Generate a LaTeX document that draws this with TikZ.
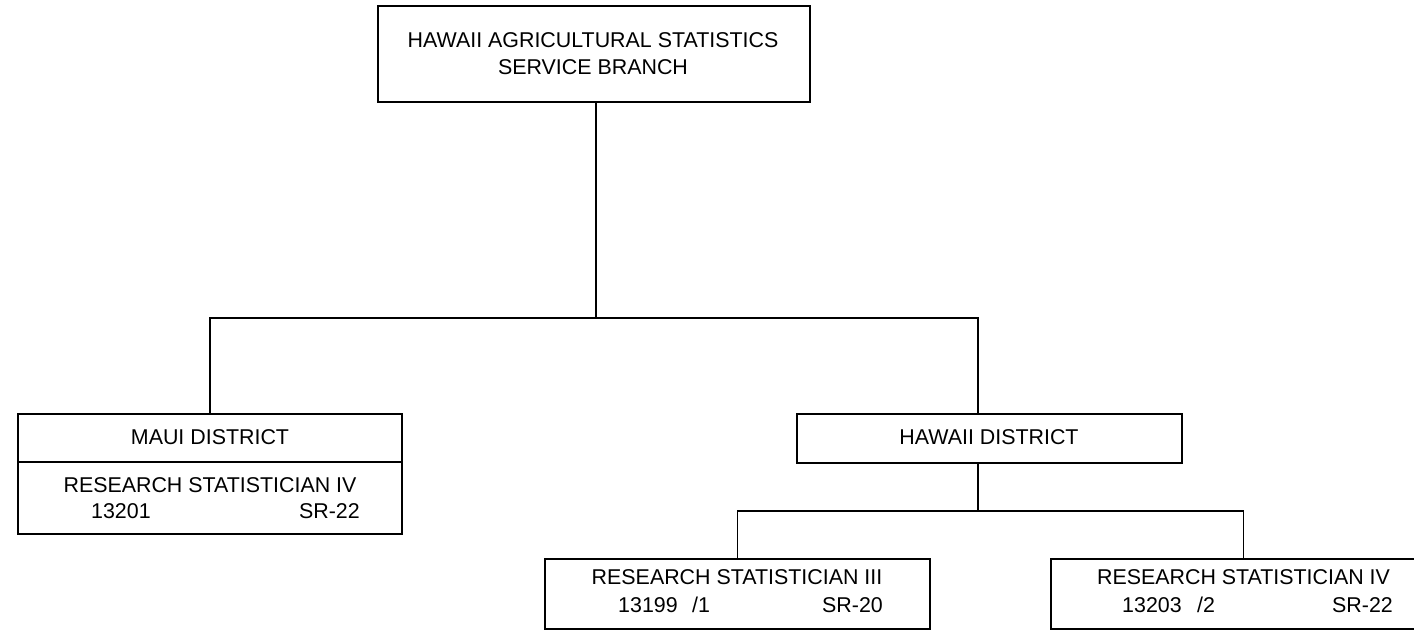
\documentclass[tikz,border=0pt]{standalone}
\usepackage{fontspec}
\setmainfont{Liberation Sans}
\begin{document}
\begin{tikzpicture}[x=1pt,y=-1pt,
  box/.style={draw,line width=1.3pt,rectangle,inner sep=0pt},
  conn/.style={draw,line width=1.3pt},
  txt/.style={inner sep=0pt,font=\fontsize{21.4}{27}\selectfont}]
\useasboundingbox (0,0) rectangle (1414,630);
\clip (0,0) rectangle (1414,630);
% boxes
\node[box,minimum width=432pt,minimum height=96pt] (top) at (594,54) {};
\node[box,minimum width=384pt,minimum height=120pt] (maui) at (210,474) {};
\node[box,minimum width=385pt,minimum height=49pt] (hd) at (989.5,438.5) {};
\node[box,minimum width=385pt,minimum height=70pt] (r3) at (737.5,594) {};
\node[box,minimum width=385pt,minimum height=70pt] (r4) at (1243.5,594) {};
\draw[conn] (maui.west |- 0,462) -- (maui.east |- 0,462);
% texts
\node[txt,anchor=base] (t1) at (593,47) {HAWAII AGRICULTURAL STATISTICS};
\node[txt,anchor=base] (t2) at (593,74) {SERVICE BRANCH};
\node[txt,anchor=base] (m1) at (210,444) {MAUI DISTRICT};
\node[txt,anchor=base] (m2) at (210,492) {RESEARCH STATISTICIAN IV};
\node[txt,anchor=base west] (m3) at (91,518) {13201};
\node[txt,anchor=base east] (m4) at (360,518) {SR-22};
\node[txt,anchor=base] (h1) at (989,444) {HAWAII DISTRICT};
\node[txt,anchor=base] (a1) at (737,584) {RESEARCH STATISTICIAN III};
\node[txt,anchor=base west] (a2) at (618,612) {13199};
\node[txt,anchor=base west] (a3) at (692,612) {/1};
\node[txt,anchor=base east] (a4) at (883,612) {SR-20};
\node[txt,anchor=base] (b1) at (1243.5,584) {RESEARCH STATISTICIAN IV};
\node[txt,anchor=base west] (b2) at (1122,612) {13203};
\node[txt,anchor=base west] (b3) at (1197,612) {/2};
\node[txt,anchor=base east] (b4) at (1393,612) {SR-22};
% connectors
\coordinate (j1) at (596,318);
\coordinate (j2) at (978,318);
\coordinate (j3) at (978,511);
\draw[conn] (top.south -| j1) -- (j1);
\draw[conn] (maui.north) |- (j2) -- (j2 |- hd.north);
\draw[conn] (hd.south -| j3) -- (j3);
\draw[conn] (r3.north) |- (j3) -| (r4.north);
\end{tikzpicture}
\end{document}
